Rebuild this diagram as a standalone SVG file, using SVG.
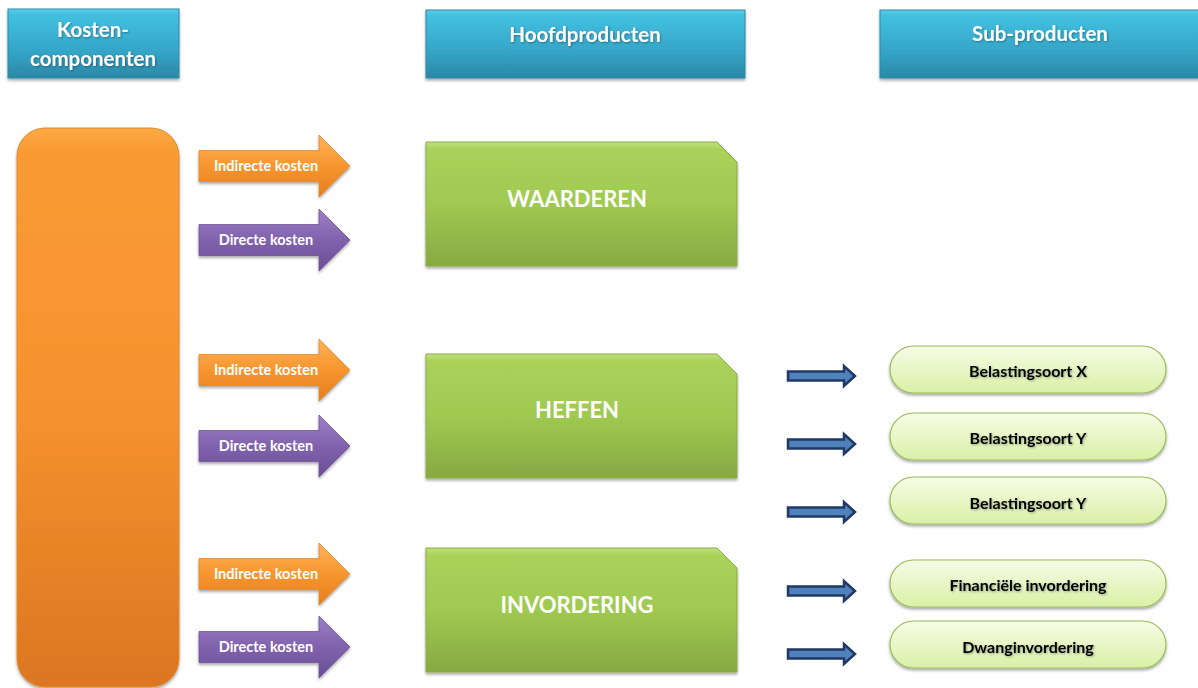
<svg xmlns="http://www.w3.org/2000/svg" width="1198" height="688" viewBox="0 0 1198 688">
<defs>
<linearGradient id="gHead" x1="0" y1="0" x2="0" y2="1">
<stop offset="0" stop-color="#5ccde8"/><stop offset="0.08" stop-color="#42c0e0"/><stop offset="0.6" stop-color="#35a6c8"/><stop offset="1" stop-color="#2b88a6"/>
</linearGradient>
<linearGradient id="gOrange" x1="0" y1="0" x2="0" y2="1">
<stop offset="0" stop-color="#fcaa44"/><stop offset="0.04" stop-color="#f99b32"/><stop offset="0.5" stop-color="#f6922e"/><stop offset="1" stop-color="#dc7622"/>
</linearGradient>
<linearGradient id="gGreen" x1="0" y1="0" x2="0" y2="1">
<stop offset="0" stop-color="#c0e07a"/><stop offset="0.06" stop-color="#a9d25a"/><stop offset="0.5" stop-color="#9fc950"/><stop offset="1" stop-color="#87a942"/>
</linearGradient>
<linearGradient id="gArrO" x1="0" y1="0" x2="0" y2="1">
<stop offset="0" stop-color="#fdb35a"/><stop offset="0.5" stop-color="#f7952e"/><stop offset="1" stop-color="#e57e22"/>
</linearGradient>
<linearGradient id="gArrP" x1="0" y1="0" x2="0" y2="1">
<stop offset="0" stop-color="#9d80c6"/><stop offset="0.5" stop-color="#8062ad"/><stop offset="1" stop-color="#6a4d96"/>
</linearGradient>
<linearGradient id="gPill" x1="0" y1="0" x2="0" y2="1">
<stop offset="0" stop-color="#f6fce6"/><stop offset="1" stop-color="#d9f0a6"/>
</linearGradient>
<filter id="sh" x="-10%" y="-10%" width="120%" height="130%">
<feDropShadow dx="0" dy="2" stdDeviation="1.5" flood-color="#000" flood-opacity="0.35"/>
</filter>
<filter id="tsh" x="-10%" y="-30%" width="120%" height="160%">
<feDropShadow dx="1" dy="1" stdDeviation="0.8" flood-color="#000" flood-opacity="0.35"/>
</filter>
<path id="bigArrow" d="M0,-15.5 H120 V-31 L151,0 L120,31 V15.5 H0 Z"/>
<path id="smallArrow" d="M0,-4.5 H56 V-10 L67,0 L56,10 V4.5 H0 Z"/>
</defs>
<style>
text{font-family:Lato,"Open Sans","Liberation Sans",sans-serif;font-weight:bold;text-anchor:middle}
.hd{fill:url(#gHead);stroke:#2f8aa5;stroke-width:1;filter:url(#sh)}
.hdt{fill:#fff;font-size:20.5px;filter:url(#tsh)}
.gb{fill:url(#gGreen);stroke:#8aad45;stroke-width:1;filter:url(#sh)}
.gbt{fill:#fff;font-size:22px}
.ao{fill:url(#gArrO);stroke:#e08a30;stroke-width:0.8;filter:url(#sh)}
.ap{fill:url(#gArrP);stroke:#6e5498;stroke-width:0.8;filter:url(#sh)}
.at{fill:#fff;font-size:14.5px}
.pill{fill:url(#gPill);stroke:#9bbb59;stroke-width:1.2;filter:url(#sh)}
.pt{fill:#000;font-size:16px;filter:url(#tsh)}
.sa{fill:#4f81bd;stroke:#1f3864;stroke-width:2.5}
</style>

<g id="header-kosten">
<rect class="hd" x="8" y="9" width="171" height="69"/>
<text class="hdt" x="93" y="37">Kosten-</text>
<text class="hdt" x="93" y="66">componenten</text>
</g>
<g id="header-hoofd">
<rect class="hd" x="426" y="10" width="319" height="68"/>
<text class="hdt" x="585" y="42">Hoofdproducten</text>
</g>
<g id="header-sub">
<rect class="hd" x="880" y="10" width="322" height="68"/>
<text class="hdt" x="1040" y="41">Sub-producten</text>
</g>

<g id="kostencomponenten">
<rect x="17" y="128" width="162" height="559" rx="28" ry="28" fill="url(#gOrange)" stroke="#e08a30" stroke-width="1" filter="url(#sh)"/>
</g>

<g id="connectors">
<g transform="translate(199,166)"><use href="#bigArrow" class="ao"/><text class="at" x="67" y="5">Indirecte kosten</text></g>
<g transform="translate(199,240)"><use href="#bigArrow" class="ap"/><text class="at" x="67" y="5">Directe kosten</text></g>
<g transform="translate(199,370)"><use href="#bigArrow" class="ao"/><text class="at" x="67" y="5">Indirecte kosten</text></g>
<g transform="translate(199,446)"><use href="#bigArrow" class="ap"/><text class="at" x="67" y="5">Directe kosten</text></g>
<g transform="translate(199,574)"><use href="#bigArrow" class="ao"/><text class="at" x="67" y="5">Indirecte kosten</text></g>
<g transform="translate(199,647)"><use href="#bigArrow" class="ap"/><text class="at" x="67" y="5">Directe kosten</text></g>
<use href="#smallArrow" class="sa" x="788" y="376"/>
<use href="#smallArrow" class="sa" x="788" y="444"/>
<use href="#smallArrow" class="sa" x="788" y="512"/>
<use href="#smallArrow" class="sa" x="788" y="591"/>
<use href="#smallArrow" class="sa" x="788" y="654"/>
</g>

<g id="waarderen">
<path class="gb" d="M426,142 H717 L737,162 V266 H426 Z"/>
<text class="gbt" x="577" y="207">WAARDEREN</text>
</g>
<g id="heffen">
<path class="gb" d="M426,354 H717 L737,374 V478 H426 Z"/>
<text class="gbt" x="577" y="418">HEFFEN</text>
</g>
<g id="invordering">
<path class="gb" d="M426,548 H717 L737,568 V672 H426 Z"/>
<text class="gbt" x="577" y="613">INVORDERING</text>
</g>

<g id="belastingsoort-x">
<rect class="pill" x="890" y="346" width="276" height="47" rx="23.5"/>
<text class="pt" x="1028" y="377">Belastingsoort X</text>
</g>
<g id="belastingsoort-y1">
<rect class="pill" x="890" y="413" width="276" height="47" rx="23.5"/>
<text class="pt" x="1028" y="444">Belastingsoort Y</text>
</g>
<g id="belastingsoort-y2">
<rect class="pill" x="890" y="477" width="276" height="47" rx="23.5"/>
<text class="pt" x="1028" y="509">Belastingsoort Y</text>
</g>
<g id="financiele-invordering">
<rect class="pill" x="890" y="560" width="276" height="47" rx="23.5"/>
<text class="pt" x="1028" y="591">Financiële invordering</text>
</g>
<g id="dwanginvordering">
<rect class="pill" x="890" y="621" width="276" height="47" rx="23.5"/>
<text class="pt" x="1028" y="653">Dwanginvordering</text>
</g>
</svg>
